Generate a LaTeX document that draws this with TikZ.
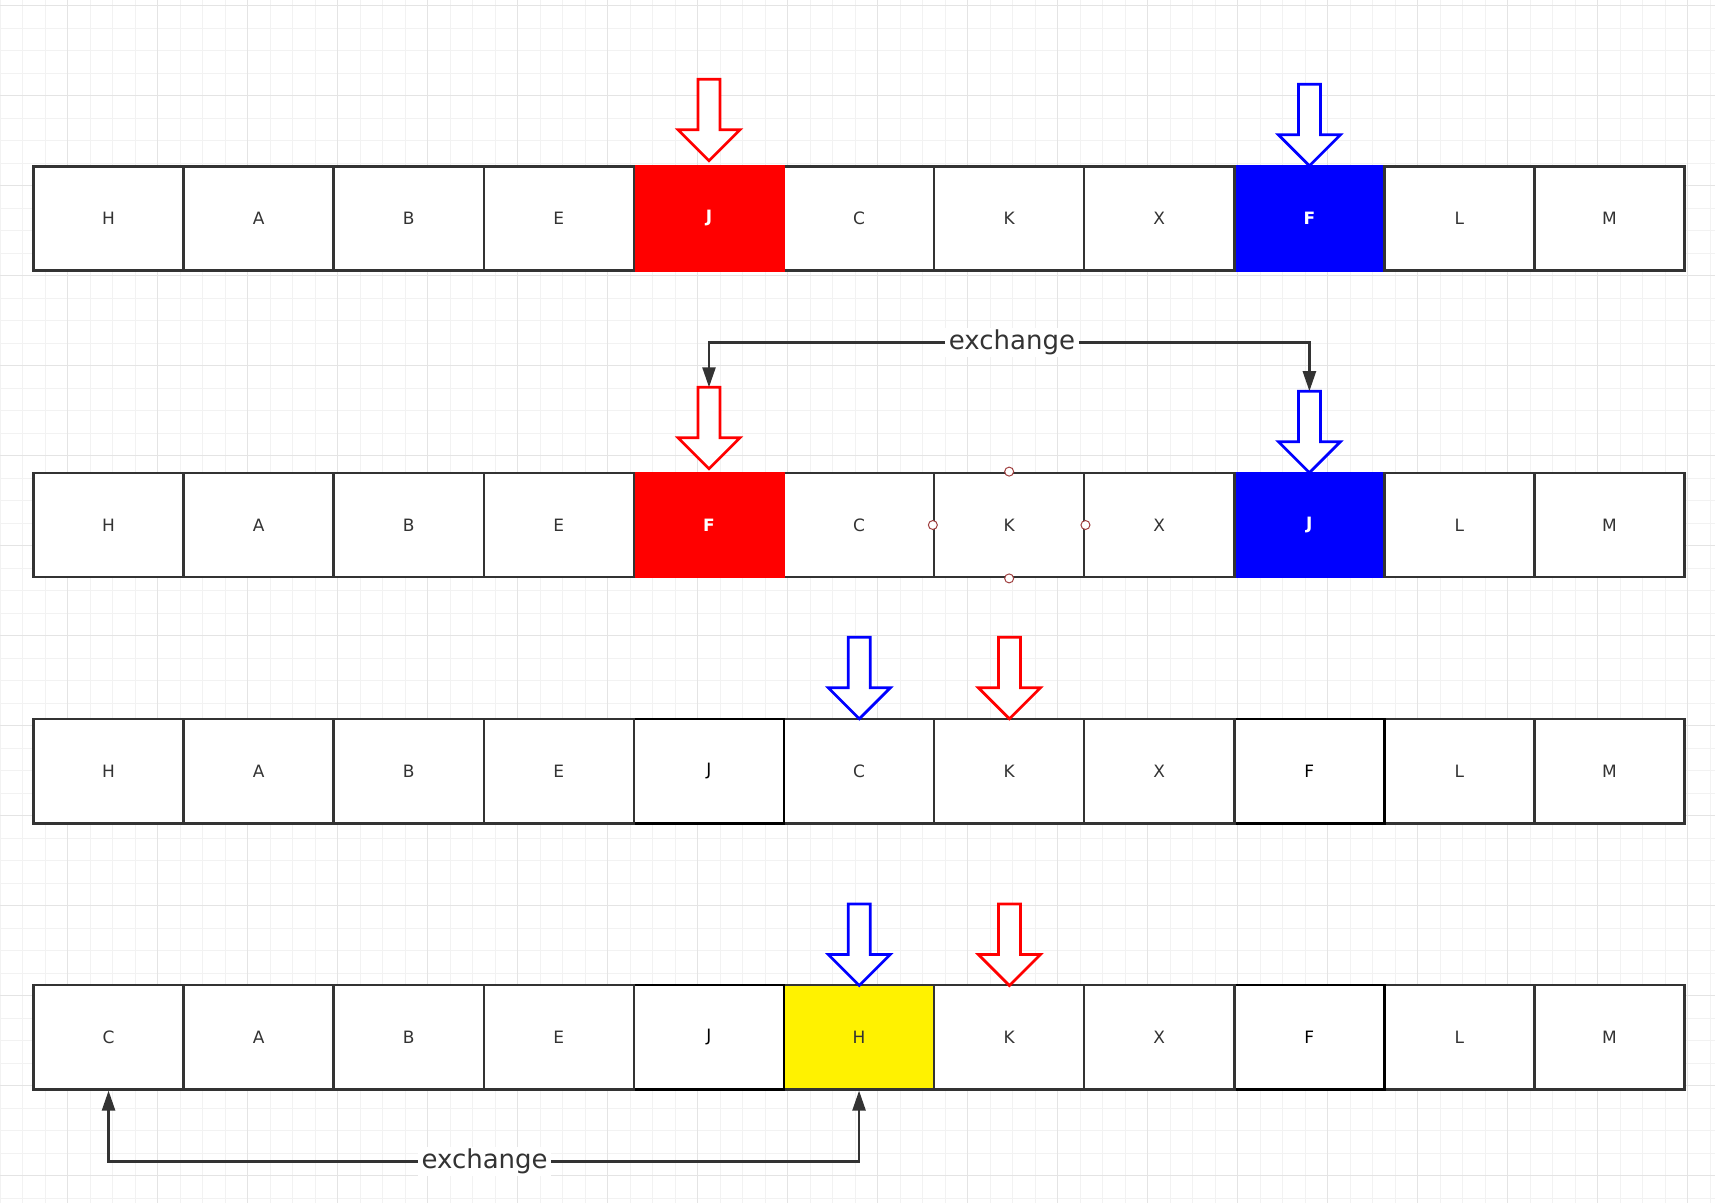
\documentclass[tikz,border=0pt]{standalone}
\usepackage{fontspec}
\setmainfont{DejaVu Sans}
\usetikzlibrary{arrows.meta}
\definecolor{ink}{HTML}{333333}
\definecolor{gridminor}{HTML}{F2F2F2}
\definecolor{gridmajor}{HTML}{E4E4E4}
\definecolor{handlecol}{HTML}{A04040}
\newcommand\mkcell[5]{\node[#4] (#1) at ({33.5+(#2+0.5)*150.1},#3) {#5};}
\newcommand\blkarrow[4]{%
  \draw[barrow,draw=#4] ({#2-11},{#3}) -- ({#2+11},{#3}) -- ({#2+11},{#3+50.5}) -- ({#2+31},{#3+50.5}) -- ({#2},{#3+81.5}) -- ({#2-31},{#3+50.5}) -- ({#2-11},{#3+50.5}) -- cycle;
  \coordinate (#1) at ({#2},{#3});}
\begin{document}
\begin{tikzpicture}[x=1pt,y=-1pt,
  cell/.style={draw=ink,line width=2.5pt,fill=white,minimum width=150.1pt,minimum height=104.3pt,inner sep=0pt,font=\fontsize{17}{20}\selectfont,text=ink},
  cellred/.style={cell,fill=red,draw=red,text=white,font=\fontsize{17}{20}\selectfont\bfseries},
  cellblue/.style={cell,fill=blue,draw=blue,text=white,font=\fontsize{17}{20}\selectfont\bfseries},
  cellblack/.style={cell,draw=black,text=black},
  cellyellow/.style={cell,fill=yellow},
  lbl/.style={fill=white,inner xsep=3.5pt,inner ysep=2pt,font=\fontsize{26}{30}\selectfont,text=ink},
  conn/.style={draw=ink,line width=2.5pt,-{Triangle[length=20pt,width=13pt]}},
  barrow/.style={line width=2.7pt,fill=white},
  gminor/.style={draw=gridminor,line width=1pt},
  gmajor/.style={draw=gridmajor,line width=1pt},
  handle/.style={draw=handlecol,fill=white,line width=1pt}]
\useasboundingbox (0,0) rectangle (1715,1203);
\fill[white] (0,0) rectangle (1715,1203);
% grid
\foreach \k in {0,...,76} {\draw[gminor] ({0.2+22.5*\k},0) -- ({0.2+22.5*\k},1203);}
\foreach \k in {0,...,53} {\draw[gminor] (0,{5.7+22.5*\k}) -- (1715,{5.7+22.5*\k});}
\foreach \k in {0,...,18} {\draw[gmajor] ({67.7+90*\k},0) -- ({67.7+90*\k},1203);}
\foreach \k in {0,...,13} {\draw[gmajor] (0,{5.7+90*\k}) -- (1715,{5.7+90*\k});}
% row 1
\mkcell{r1c8}{8}{218.4}{cellblue}{F}
\mkcell{r1c10}{10}{218.4}{cell}{M}
\mkcell{r1c9}{9}{218.4}{cell}{L}
\mkcell{r1c7}{7}{218.4}{cell}{X}
\mkcell{r1c6}{6}{218.4}{cell}{K}
\mkcell{r1c5}{5}{218.4}{cell}{C}
\mkcell{r1c4}{4}{218.4}{cellred}{J}
\mkcell{r1c3}{3}{218.4}{cell}{E}
\mkcell{r1c2}{2}{218.4}{cell}{B}
\mkcell{r1c1}{1}{218.4}{cell}{A}
\mkcell{r1c0}{0}{218.4}{cell}{H}
\blkarrow{ra1}{709}{79.3}{red}
\blkarrow{ba1}{1309.4}{84.3}{blue}
% row 2
\mkcell{r2c8}{8}{525}{cellblue}{J}
\mkcell{r2c10}{10}{525}{cell}{M}
\mkcell{r2c9}{9}{525}{cell}{L}
\mkcell{r2c7}{7}{525}{cell}{X}
\mkcell{r2c6}{6}{525}{cell}{K}
\mkcell{r2c5}{5}{525}{cell}{C}
\mkcell{r2c4}{4}{525}{cellred}{F}
\mkcell{r2c3}{3}{525}{cell}{E}
\mkcell{r2c2}{2}{525}{cell}{B}
\mkcell{r2c1}{1}{525}{cell}{A}
\mkcell{r2c0}{0}{525}{cell}{H}
\blkarrow{ra2}{709}{387.3}{red}
\blkarrow{ba2}{1309.4}{391.2}{blue}
\foreach \a in {north,south,east,west} {\draw[handle] (r2c6.\a) circle[radius=4.5pt];}
\node[lbl] (ex1) at (1012,342.7) {exchange};
\draw[conn] (ex1.west) -| (ra2);
\draw[conn] (ex1.east) -| (ba2);
% row 3
\mkcell{r3c10}{10}{771.1}{cell}{M}
\mkcell{r3c9}{9}{771.1}{cell}{L}
\mkcell{r3c8}{8}{771.1}{cellblack}{F}
\mkcell{r3c7}{7}{771.1}{cell}{X}
\mkcell{r3c6}{6}{771.1}{cell}{K}
\mkcell{r3c5}{5}{771.1}{cell}{C}
\mkcell{r3c4}{4}{771.1}{cellblack}{J}
\mkcell{r3c3}{3}{771.1}{cell}{E}
\mkcell{r3c2}{2}{771.1}{cell}{B}
\mkcell{r3c1}{1}{771.1}{cell}{A}
\mkcell{r3c0}{0}{771.1}{cell}{H}
\blkarrow{ba3}{859.3}{637.3}{blue}
\blkarrow{ra3}{1009.4}{637.3}{red}
% row 4
\mkcell{r4c10}{10}{1037.2}{cell}{M}
\mkcell{r4c9}{9}{1037.2}{cell}{L}
\mkcell{r4c8}{8}{1037.2}{cellblack}{F}
\mkcell{r4c7}{7}{1037.2}{cell}{X}
\mkcell{r4c6}{6}{1037.2}{cell}{K}
\mkcell{r4c5}{5}{1037.2}{cellyellow}{H}
\mkcell{r4c4}{4}{1037.2}{cellblack}{J}
\mkcell{r4c3}{3}{1037.2}{cell}{E}
\mkcell{r4c2}{2}{1037.2}{cell}{B}
\mkcell{r4c1}{1}{1037.2}{cell}{A}
\mkcell{r4c0}{0}{1037.2}{cell}{C}
\blkarrow{ba4}{859.3}{904}{blue}
\blkarrow{ra4}{1009.4}{904}{red}
\node[lbl] (ex2) at (484.6,1161.7) {exchange};
\draw[conn] (ex2.west) -| (r4c0.south);
\draw[conn] (ex2.east) -| (r4c5.south);
\end{tikzpicture}
\end{document}
